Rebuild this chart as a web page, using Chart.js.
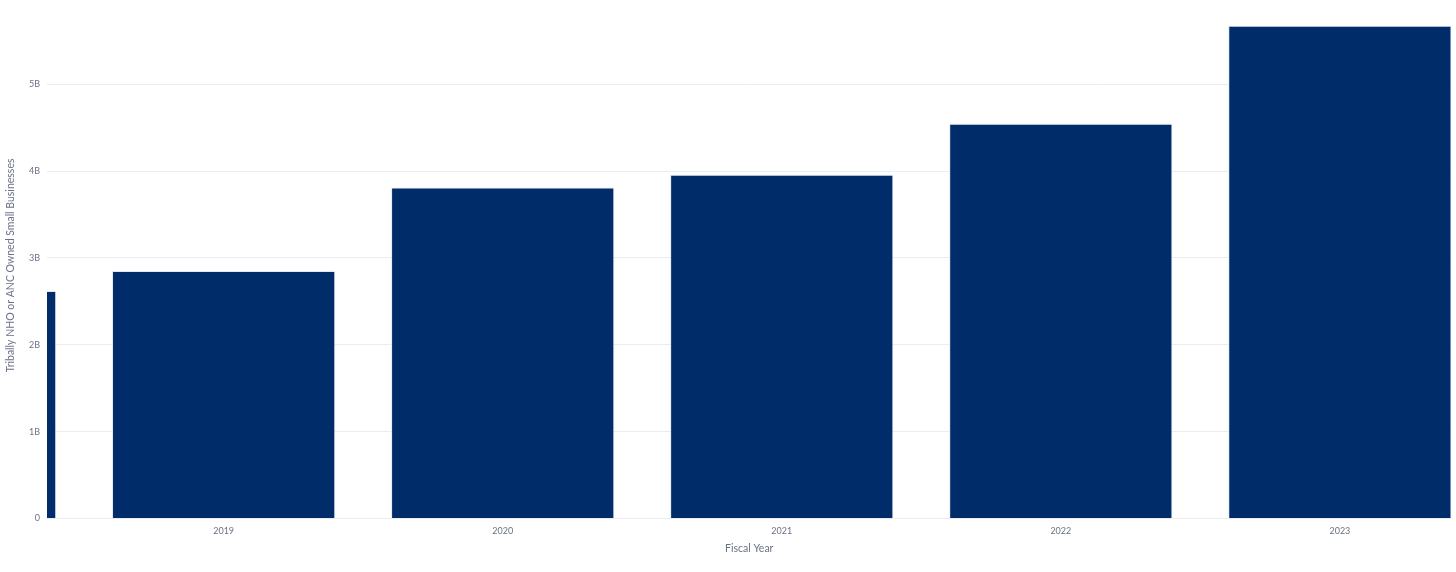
<!DOCTYPE html>
<html>
<head>
<meta charset="utf-8">
<script src="https://cdn.jsdelivr.net/npm/chart.js@4.4.1/dist/chart.umd.min.js"></script>
<style>
  html, body { margin: 0; padding: 0; background: #ffffff; }
  #wrap { width: 1456px; height: 572px; position: relative; }
</style>
</head>
<body>
<div id="wrap"><canvas id="chart"></canvas></div>
<script>
// fiscal years and totals (dollars)
const fiscalYears = [2018, 2019, 2020, 2021, 2022, 2023];
const obligations = [2.62e9, 2.85e9, 3.81e9, 3.956e9, 4.543e9, 5.673e9];
const yTicks = [0, 1e9, 2e9, 3e9, 4e9, 5e9];
const xTicks = [2019, 2020, 2021, 2022, 2023];

const textColor = "#6b7287";
const fontFamily = "'Source Sans Pro', Lato, 'Noto Sans', sans-serif";

const points = fiscalYears.map((yr, i) => ({ x: yr, y: obligations[i] }));

new Chart(document.getElementById("chart"), {
    type: "bar",
    data: {
        datasets: [
            {
                label: "Tribally NHO or ANC Owned Small Businesses",
                data: points,
                backgroundColor: "#002c6a",
                borderColor: "rgba(225,230,242,0.9)",
                borderWidth: 1,
                categoryPercentage: 1,
                barPercentage: 0.8,
            },
        ],
    },
    options: {
        responsive: true,
        maintainAspectRatio: false,
        animation: false,
        layout: { padding: { top: 0, right: 4.5, bottom: 16.7, left: 0 } },
        plugins: {
            legend: { display: false },
            tooltip: { enabled: false },
        },
        scales: {
            x: {
                type: "linear",
                min: 2018.367,
                max: 2023.4,
                offset: false,
                grid: { display: false, drawTicks: false },
                border: { display: false },
                afterBuildTicks: (scale) => {
                    scale.ticks = xTicks.map((v) => ({ value: v }));
                },
                afterFit: (scale) => {
                    scale.height = 36.8;
                },
                ticks: {
                    color: textColor,
                    font: { family: fontFamily, size: 9 },
                    padding: 7,
                    maxRotation: 0,
                    callback: (v) => String(v),
                },
                title: {
                    display: true,
                    text: "Fiscal Year",
                    color: textColor,
                    font: { family: fontFamily, size: 10.5 },
                    padding: { top: 4, bottom: 0 },
                },
            },
            y: {
                min: 0,
                max: 5.826e9,
                grid: { color: "#ebebf2", drawTicks: false, lineWidth: 1 },
                border: { display: false },
                afterBuildTicks: (scale) => {
                    scale.ticks = yTicks.map((v) => ({ value: v }));
                },
                afterFit: (scale) => {
                    scale.width = 47;
                },
                ticks: {
                    color: textColor,
                    font: { family: fontFamily, size: 9 },
                    padding: 7,
                    callback: (v) => (v === 0 ? "0" : v / 1e9 + "B"),
                },
                title: {
                    display: true,
                    text: "Tribally NHO or ANC Owned Small Businesses",
                    color: textColor,
                    font: { family: fontFamily, size: 10.5 },
                    padding: { top: 4.7, bottom: 0 },
                },
            },
        },
    },
});
</script>
</body>
</html>
